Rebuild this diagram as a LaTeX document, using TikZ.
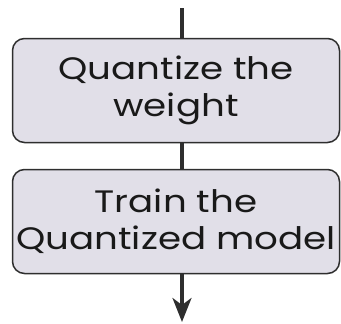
\documentclass[tikz,border=0pt]{standalone}
\usepackage{fontspec}
\setmainfont{Poppins}[FakeStretch=1.2]
\usetikzlibrary{arrows.meta}
\definecolor{boxfill}{HTML}{E1DFE8}
\definecolor{edge}{HTML}{2E2E2E}
\tikzset{
  stepbox/.style={draw=edge, line width=1.5pt, fill=boxfill, rounded corners=12pt,
    minimum width=327pt, minimum height=104pt, align=center, inner sep=0pt,
    font=\fontsize{31}{37}\selectfont, text=black!90},
  conn/.style={draw=edge, line width=3.5pt}
}
\begin{document}
\begin{tikzpicture}[x=1pt,y=1pt]
\useasboundingbox (0,0) rectangle (341,-324);
\node[stepbox] (b1) at (176,-90.5) {Quantize the\\weight};
\node[stepbox] (b2) at (176,-221.5) {Train the\\Quantized model};
\coordinate (top) at (182,-8);
\coordinate (bot) at (182,-322);
\draw[conn] (top) -- (top |- b1.north);
\draw[conn] (top |- b1.south) -- (top |- b2.north);
\draw[conn, -{Stealth[length=24pt,width=19pt,inset=7pt]}] (top |- b2.south) -- (bot);
\end{tikzpicture}
\end{document}
